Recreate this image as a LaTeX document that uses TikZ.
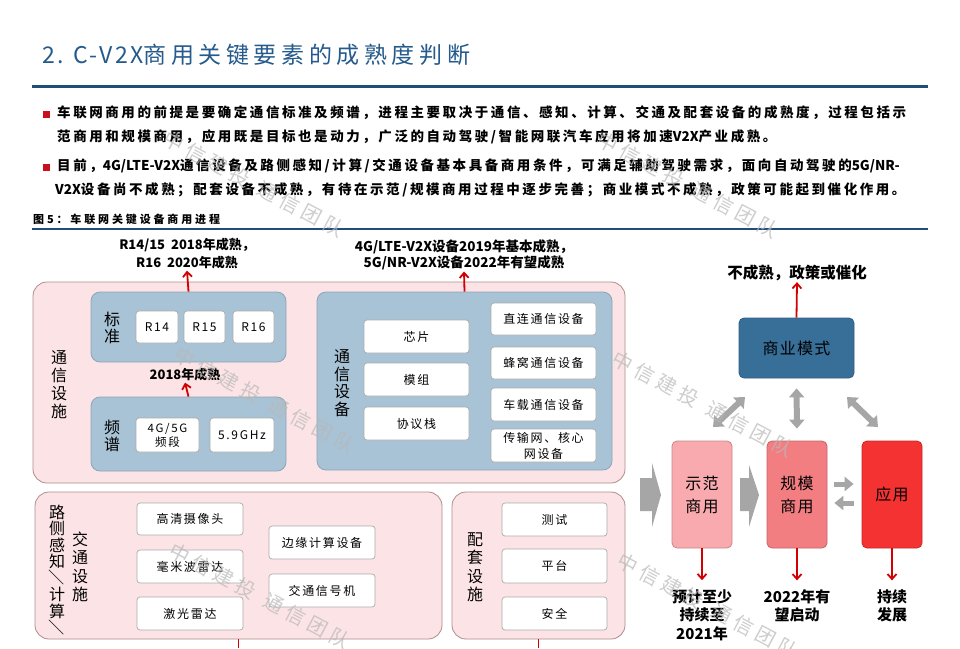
\documentclass[tikz,border=0pt]{standalone}
\usepackage{fontspec}
\usepackage{graphicx}
\setmainfont{Noto Sans CJK SC}
\newfontfamily\cjk{Noto Sans CJK SC}
\newfontfamily\cjkls[LetterSpace=19]{Noto Sans CJK SC}
\newfontfamily\cjkcap[LetterSpace=26]{Noto Sans CJK SC}
\newfontfamily\cjkbox[LetterSpace=14]{Noto Sans CJK SC}
\newfontfamily\cjkstage[LetterSpace=8]{Noto Sans CJK SC}
\newfontfamily\titlelat[LetterSpace=10]{Noto Sans CJK SC}
\newfontfamily\titlecjk[LetterSpace=20]{Noto Sans CJK SC}
\newfontfamily\cjkwm[LetterSpace=25]{Noto Sans CJK SC}
\newcommand\latn[1]{{\cjk\bfseries #1}}
\usetikzlibrary{arrows.meta}
\definecolor{titleblue}{RGB}{36,90,140}
\definecolor{ruleblue}{RGB}{31,78,121}
\definecolor{bulletred}{RGB}{200,16,30}
\definecolor{pinkfill}{RGB}{252,228,230}
\definecolor{pinkline}{RGB}{176,140,140}
\definecolor{bluefill}{RGB}{168,195,213}
\definecolor{blueline}{RGB}{140,165,185}
\definecolor{boxline}{RGB}{170,170,170}
\definecolor{bizblue}{RGB}{56,111,153}
\definecolor{demofill}{RGB}{248,170,174}
\definecolor{scalefill}{RGB}{243,126,130}
\definecolor{appfill}{RGB}{245,50,50}
\definecolor{arrred}{RGB}{210,0,0}
\definecolor{arrgray}{RGB}{166,166,166}
\newcommand\bx[7]{\node[#6, minimum width={(#4-#2)*1pt}, minimum height={(#5-#3)*1pt}] (#1) at ({(#2+#4)/2},{-(#3+#5)/2}) {#7};}
\begin{document}
\begin{tikzpicture}[x=1pt,y=1pt,
  pinkbox/.style={draw=pinkline, fill=pinkfill, rounded corners=14pt, line width=0.8pt, inner sep=0pt},
  bluebox/.style={draw=blueline, fill=bluefill, rounded corners=9pt, line width=0.8pt, inner sep=0pt},
  wbox/.style={draw=boxline, fill=white, rounded corners=3pt, line width=0.7pt, inner sep=0pt, align=center, font=\cjkbox\fontsize{12}{15}\selectfont},
  vlab/.style={align=center, inner sep=0pt, font=\cjk\fontsize{16}{18}\selectfont},
  blabel/.style={align=center, inner sep=1pt, font=\cjk\bfseries\fontsize{13}{17}\selectfont},
  slabel/.style={align=center, inner sep=1pt, font=\cjk\bfseries\fontsize{15}{18.5}\selectfont},
  redarr/.style={draw=arrred, line width=1.8pt, -{Straight Barb[length=5pt,width=9pt]}},
  redline/.style={draw=arrred, line width=1.8pt},
  grayarr/.style={draw=arrgray, line width=6pt, {Triangle[width=15pt,length=9pt]}-{Triangle[width=15pt,length=9pt]}},
  grayone/.style={draw=arrgray, line width=5pt, -{Triangle[width=14pt,length=9pt]}},
  stage/.style={rounded corners=5pt, line width=0.8pt, inner sep=0pt, align=center, font=\cjkstage\fontsize{16}{23}\selectfont},
  btext/.style={anchor=west, inner sep=0pt, font=\cjkls\bfseries\fontsize{13.5}{16}\selectfont},
  wm/.style={text=black!28, opacity=0.7, rotate=-28, inner sep=0pt, font=\cjkwm\fontsize{20}{24}\selectfont},
]
\useasboundingbox (0,0) rectangle (960,-648);
\fill[white] (0,0) rectangle (960,-648);

% title and header
\node[anchor=west, inner sep=0pt, text=titleblue] (title) at (42,-55)
  {{\titlelat\fontsize{23}{26}\selectfont 2. C-V2X}{\titlecjk\fontsize{23}{26}\selectfont 商用关键要素的成熟度判断}};
\draw[ruleblue, line width=3pt] (32,-86) -- (928,-86);

\fill[bulletred] (42.5,-111) rectangle (49.5,-118);
\fill[bulletred] (42.5,-164) rectangle (49.5,-171);
\node[btext] (b1) at (57,-113) {车联网商用的前提是要确定通信标准及频谱，进程主要取决于通信、感知、计算、交通及配套设备的成熟度，过程包括示};
\node[btext] (b2) at (57,-137) {范商用和规模商用，应用既是目标也是动力，广泛的自动驾驶/智能网联汽车应用将加速\latn{V2X}产业成熟。};
\node[btext] (b3) at (57,-166) {目前，\latn{4G/LTE-V2X}通信设备及路侧感知/计算/交通设备基本具备商用条件，可满足辅助驾驶需求，面向自动驾驶的\latn{5G/NR-}};
\node[btext] (b4) at (55,-190) {\latn{V2X}设备尚不成熟；配套设备不成熟，有待在示范/规模商用过程中逐步完善；商业模式不成熟，政策可能起到催化作用。};

\node[anchor=west, inner sep=0pt, font=\cjkcap\bfseries\fontsize{11}{13}\selectfont] (cap) at (33,-219) {图5：车联网关键设备商用进程};
\draw[ruleblue, line width=2pt] (32,-229) -- (928,-229);

% communication facilities
\bx{comm}{33}{282}{625}{483}{pinkbox}{}
\node[vlab] (vcomm) at (59,-385) {通\\信\\设\\施};
\bx{std}{91}{292}{286}{362}{bluebox}{}
\node[vlab, font=\cjk\fontsize{16}{17}\selectfont] (vstd) at (112,-328) {标\\准};
\bx{r14}{136}{311}{178}{343}{wbox}{R14}
\bx{r15}{184}{311}{225}{343}{wbox}{R15}
\bx{r16}{233}{311}{274}{343}{wbox}{R16}
\bx{spec}{91}{397}{286}{471}{bluebox}{}
\node[vlab, font=\cjk\fontsize{16}{17}\selectfont] (vspec) at (112,-436) {频\\谱};
\bx{band}{136}{418}{199}{452}{wbox, font=\cjkbox\fontsize{11.5}{14}\selectfont}{4G/5G\\频段}
\bx{ghz}{210}{418}{274}{452}{wbox}{5.9GHz}

\bx{dev}{317}{292}{612}{470}{bluebox}{}
\node[vlab, font=\cjk\fontsize{16}{17.5}\selectfont] (vdev) at (342,-383) {通\\信\\设\\备};
\bx{chip}{364}{320}{469}{353}{wbox}{芯片}
\bx{mod}{364}{363}{469}{396}{wbox}{模组}
\bx{stack}{364}{407}{469}{440}{wbox}{协议栈}
\bx{d1}{491}{303}{596}{335}{wbox}{直连通信设备}
\bx{d2}{491}{347}{596}{379}{wbox}{蜂窝通信设备}
\bx{d3}{491}{388}{596}{421}{wbox}{车载通信设备}
\bx{d4}{491}{429}{596}{462}{wbox, font=\cjkbox\fontsize{12}{16}\selectfont}{传输网、核心\\网设备}

\node[blabel, font=\cjk\bfseries\fontsize{13}{18}\selectfont] (lab1) at (187,-254) {R14/15\ \ 2018年成熟，\\R16\ \ 2020年成熟};
\node[blabel] (lab2018) at (185,-375) {2018年成熟};
\node[blabel, font=\cjk\bfseries\fontsize{13.5}{16.5}\selectfont] (lab2) at (464,-255) {4G/LTE-V2X设备2019年基本成熟，\\5G/NR-V2X设备2022年有望成熟};
\draw[redarr] (std.north) -- (lab1.south);
\draw[redarr] (spec.north) -- (lab2018.south);
\draw[redarr] (dev.north) -- (lab2.south);

% roadside
\bx{road}{35}{492}{442}{639}{pinkbox}{}
\node[vlab, font=\cjk\fontsize{16}{16.5}\selectfont] (vroad1) at (57,-570) {路\\侧\\感\\知\\\rotatebox[origin=c]{-90}{／}\\计\\算\\\rotatebox[origin=c]{-90}{／}};
\node[vlab, font=\cjk\fontsize{16}{18.5}\selectfont] (vroad2) at (80,-567) {交\\通\\设\\施};
\bx{cam}{137}{503}{243}{535}{wbox}{高清摄像头}
\bx{mmw}{137}{550}{243}{583}{wbox}{毫米波雷达}
\bx{lid}{137}{597}{243}{630}{wbox}{激光雷达}
\bx{edge}{269}{526}{375}{559}{wbox}{边缘计算设备}
\bx{sig}{269}{574}{375}{607}{wbox}{交通信号机}

\bx{supp}{452}{492}{625}{639}{pinkbox}{}
\node[vlab, font=\cjk\fontsize{16}{18.5}\selectfont] (vsupp) at (475,-567) {配\\套\\设\\施};
\bx{test}{502}{503}{607}{536}{wbox}{测试}
\bx{plat}{502}{549}{607}{583}{wbox}{平台}
\bx{sec}{502}{597}{607}{630}{wbox}{安全}

\coordinate (roadout) at (238.5,-648);
\coordinate (suppout) at (538.5,-648);
\draw[redline] (road.south) -- (roadout);
\draw[redline] (supp.south) -- (suppout);

% business side
\bx{biz}{739}{318}{854}{378}{stage, fill=bizblue, draw=bizblue!85!black, font=\cjkstage\fontsize{16}{20}\selectfont}{商业模式}
\node[slabel, font=\cjk\bfseries\fontsize{15.5}{19}\selectfont] (lab3) at (797,-273) {不成熟，政策或催化};
\draw[redarr] (biz.north) -- (lab3.south);

\bx{demo}{672}{441}{732}{548}{stage, fill=demofill, draw=demofill!80!black}{示范\\商用}
\bx{scale}{767}{441}{827}{548}{stage, fill=scalefill, draw=scalefill!80!black}{规模\\商用}
\bx{app}{862}{441}{922}{548}{stage, fill=appfill, draw=appfill!80!black}{应用}

\fill[arrgray] (640,-478) -- (652,-478) -- (652,-463) -- (661,-495) -- (652,-527) -- (652,-511) -- (640,-511) -- cycle;
\fill[arrgray] (740,-478) -- (749,-478) -- (749,-465) -- (759,-495) -- (749,-527) -- (749,-511) -- (740,-511) -- cycle;

\draw[grayone, shorten <=7pt, shorten >=8pt] ([yshift=10.5pt]scale.east) -- ([yshift=10.5pt]app.west);
\draw[grayone, shorten <=8pt, shorten >=7pt] ([yshift=-8.5pt]app.west) -- ([yshift=-8.5pt]scale.east);

\coordinate (ga1) at (713,-427);
\coordinate (gb1) at (745,-397);
\coordinate (ga3) at (847,-397);
\coordinate (gb3) at (878,-427);
\draw[grayarr] (ga1) -- (gb1);
\draw[grayarr, shorten <=12pt, shorten >=10pt] (scale.north) -- (biz.south);
\draw[grayarr] (ga3) -- (gb3);

\node[slabel] (labA) at (702,-615) {预计至少\\持续至\\2021年};
\node[slabel] (labB) at (797,-606) {2022年有\\望启动};
\node[slabel] (labC) at (892,-606) {持续\\发展};
\draw[redarr, shorten >=8pt] (demo.south) -- (demo.south |- labA.north);
\draw[redarr, shorten >=8pt] (scale.south) -- (labB.north);
\draw[redarr, shorten >=8pt] (app.south) -- (labC.north);

% watermarks
\node[wm] (wm1) at (254,-184) {中信建投\hspace{12pt}通信团队};
\node[wm] (wm2) at (688,-185) {中信建投\hspace{12pt}通信团队};
\node[wm] (wm3) at (265,-400) {中信建投\hspace{12pt}通信团队};
\node[wm] (wm4) at (703,-404) {中信建投\hspace{12pt}通信团队};
\node[wm] (wm5) at (260,-596) {中信建投\hspace{12pt}通信团队};
\node[wm] (wm6) at (708,-606) {中信建投\hspace{12pt}通信团队};
\end{tikzpicture}
\end{document}
